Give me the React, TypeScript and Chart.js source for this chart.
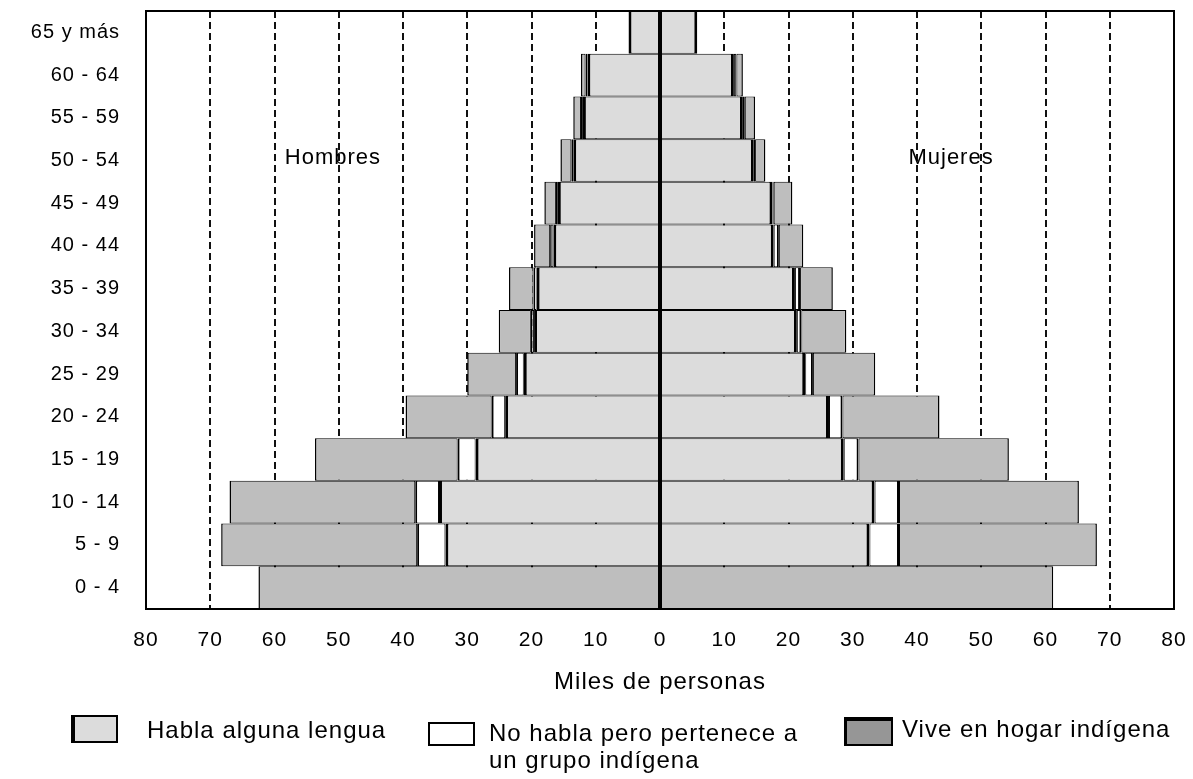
import React, { useEffect, useRef } from "react";
import { Chart, registerables } from "chart.js";

Chart.register(...registerables);

// ---------- data (thousands of people) ----------
const ageGroups = [
  "65 y más", "60 - 64", "55 - 59", "50 - 54", "45 - 49", "40 - 44", "35 - 39",
  "30 - 34", "25 - 29", "20 - 24", "15 - 19", "10 - 14", "5 - 9", "0 - 4",
];

const menHabla = [4.9, 11.3, 12.0, 13.5, 15.9, 16.6, 19.2, 19.6, 21.2, 24.1, 28.7, 34.4, 33.4, 0];
const menNoHabla = [0, 0.3, 0.3, 0.3, 0.3, 0.5, 0.5, 0.5, 1.2, 2.1, 2.8, 3.7, 4.4, 0];
const menHogar = [0, 0.7, 1.2, 1.7, 1.8, 2.5, 3.8, 5.0, 7.6, 13.4, 22.2, 28.9, 30.5, 62.5];

const womenHabla = [5.8, 11.5, 12.9, 14.6, 17.5, 17.7, 21.0, 21.3, 22.6, 26.3, 28.6, 33.4, 32.6, 0];
const womenNoHabla = [0, 0.4, 0.3, 0.2, 0.2, 0.8, 0.8, 0.7, 1.2, 2.1, 2.3, 3.8, 4.6, 0];
const womenHogar = [0, 1.0, 1.6, 1.6, 2.9, 3.8, 5.1, 7.0, 9.7, 15.1, 23.4, 28.0, 30.8, 61.2];

const seriesNames = [
  "Habla alguna lengua",
  "No habla pero pertenece a un grupo indígena",
  "Vive en hogar indígena",
];
const axisTitle = "Miles de personas";
const xMin = -80;
const xMax = 80;
const xStep = 10;
const zeroValue = 0;
const sideLabels = [
  { text: "Hombres", value: -50.9, row: "50 - 54" },
  { text: "Mujeres", value: 45.3, row: "50 - 54" },
];

// ---------- styles ----------
const FONT = '"Liberation Sans", Arial, sans-serif';
const COLORS: Record<string, string> = {
  habla: "#dcdcdc",
  nohabla: "#ffffff",
  hogar: "#bebebe",
};

const borderWidthFn = (ctx: any) => {
  const ds = ctx.dataset || {};
  const end = ds.kind === "habla" ? 3 : ds.kind === "nohabla" ? 2 : 1.5;
  const base = 1;
  return ds.side === "H"
    ? { top: 1, bottom: 1, left: end, right: base }
    : { top: 1, bottom: 1, left: base, right: end };
};

const makeDs = (label: string, kind: string, side: string, values: number[]) => ({
  label,
  kind,
  side,
  data: side === "H" ? values.map((v) => (v === 0 ? 0 : -v)) : values,
  backgroundColor: COLORS[kind],
  borderColor: "#000",
  borderWidth: borderWidthFn,
  borderSkipped: false,
  inflateAmount: 0,
  stack: "pyr",
  categoryPercentage: 1,
  barPercentage: 1,
});

const spacingPlugin = {
  id: "spacing",
  beforeUpdate(c: any) {
    c.ctx.letterSpacing = "1px";
  },
  beforeLayout(c: any) {
    c.ctx.letterSpacing = "1px";
  },
  beforeDraw(c: any) {
    c.ctx.letterSpacing = "1px";
  },
};

const framePlugin = {
  id: "frame",
  afterDatasetsDraw(c: any) {
    const { ctx, chartArea } = c;
    const x = c.scales.x;
    ctx.save();
    // zero reference line
    const px = x.getPixelForValue(zeroValue);
    ctx.strokeStyle = "#000";
    ctx.lineWidth = 4;
    ctx.setLineDash([]);
    ctx.beginPath();
    ctx.moveTo(px, chartArea.top);
    ctx.lineTo(px, chartArea.bottom);
    ctx.stroke();
    // plot frame
    ctx.lineWidth = 2;
    ctx.strokeRect(chartArea.left, chartArea.top, chartArea.right - chartArea.left, chartArea.bottom - chartArea.top);
    ctx.restore();
  },
};

const sideLabelPlugin = {
  id: "sideLabels",
  afterDatasetsDraw(c: any) {
    const { ctx } = c;
    const x = c.scales.x;
    const y = c.scales.y;
    ctx.save();
    ctx.font = `22px ${FONT}`;
    ctx.fillStyle = "#000";
    ctx.textAlign = "center";
    ctx.textBaseline = "alphabetic";
    for (const s of sideLabels) {
      const py = y.getPixelForValue(ageGroups.indexOf(s.row));
      ctx.fillText(s.text, x.getPixelForValue(s.value), py + 3);
    }
    ctx.restore();
  },
};

export default function App() {
  const ref = useRef<HTMLCanvasElement | null>(null);

  useEffect(() => {
    if (!ref.current) return;
    const chart = new Chart(ref.current, {
      type: "bar",
      data: {
        labels: ageGroups,
        datasets: [
          makeDs(seriesNames[0], "habla", "H", menHabla),
          makeDs(seriesNames[1], "nohabla", "H", menNoHabla),
          makeDs(seriesNames[2], "hogar", "H", menHogar),
          makeDs(seriesNames[0], "habla", "M", womenHabla),
          makeDs(seriesNames[1], "nohabla", "M", womenNoHabla),
          makeDs(seriesNames[2], "hogar", "M", womenHogar),
        ] as any,
      },
      options: {
        indexAxis: "y",
        animation: false,
        responsive: false,
        maintainAspectRatio: false,
        layout: { padding: { left: 0, right: 19, top: 11, bottom: 70 } },
        plugins: {
          legend: { display: false },
          tooltip: { enabled: false },
        },
        scales: {
          x: {
            type: "linear",
            stacked: true,
            min: xMin,
            max: xMax,
            ticks: {
              stepSize: xStep,
              autoSkip: false,
              maxRotation: 0,
              color: "#000",
              padding: 19,
              font: { family: FONT, size: 21 },
              callback: (v: any) => String(Math.abs(Number(v))),
            },
            grid: {
              drawTicks: false,
              lineWidth: 2,
              color: (c: any) =>
                c.tick && (c.tick.value === 0 || Math.abs(c.tick.value) === xMax)
                  ? "rgba(0,0,0,0)"
                  : "#111",
            },
            border: { display: false, dash: [7, 4] },
            title: {
              display: true,
              text: axisTitle,
              color: "#000",
              font: { family: FONT, size: 24 },
              padding: { top: 0, bottom: 12 },
            },
            afterFit: (s: any) => {
              s.height = 100;
              s.paddingLeft = 0;
              s.paddingRight = 0;
            },
          },
          y: {
            type: "category",
            stacked: true,
            grid: { display: false, drawTicks: false },
            border: { display: false },
            ticks: {
              autoSkip: false,
              color: "#000",
              padding: 26,
              font: { family: FONT, size: 20 },
            },
            afterFit: (s: any) => {
              s.width = 146;
              s.paddingTop = 0;
              s.paddingBottom = 0;
            },
          },
        },
      } as any,
      plugins: [spacingPlugin, framePlugin, sideLabelPlugin],
    });
    return () => chart.destroy();
  }, []);

  const textStyle: React.CSSProperties = {
    position: "absolute",
    fontFamily: FONT,
    fontSize: 24,
    letterSpacing: "1px",
    color: "#000",
    whiteSpace: "nowrap",
  };

  return (
    <div style={{ position: "fixed", left: 0, top: 0, width: 1193, height: 779, background: "#fff", overflow: "hidden" }}>
      <canvas ref={ref} width={1193} height={779} style={{ position: "absolute", left: 0, top: 0 }} />
      <div
        style={{
          position: "absolute", left: 71, top: 715, width: 47, height: 28, boxSizing: "border-box",
          background: COLORS.habla, borderStyle: "solid", borderColor: "#000", borderWidth: "2px 2px 2px 4px",
        }}
      />
      <div style={{ ...textStyle, left: 147, top: 716, lineHeight: "28px" }}>{seriesNames[0]}</div>
      <div
        style={{
          position: "absolute", left: 428, top: 722, width: 47, height: 24, boxSizing: "border-box",
          background: COLORS.nohabla, borderStyle: "solid", borderColor: "#000", borderWidth: "2px",
        }}
      />
      <div style={{ ...textStyle, left: 489, top: 720, lineHeight: "26.5px", whiteSpace: "normal", width: 335 }}>
        {seriesNames[1]}
      </div>
      <div
        style={{
          position: "absolute", left: 844, top: 717, width: 49, height: 29, boxSizing: "border-box",
          background: "#969696", borderStyle: "solid", borderColor: "#000", borderWidth: "4px 2px 2px 3px",
        }}
      />
      <div style={{ ...textStyle, left: 902, top: 715, lineHeight: "28px" }}>{seriesNames[2]}</div>
    </div>
  );
}
